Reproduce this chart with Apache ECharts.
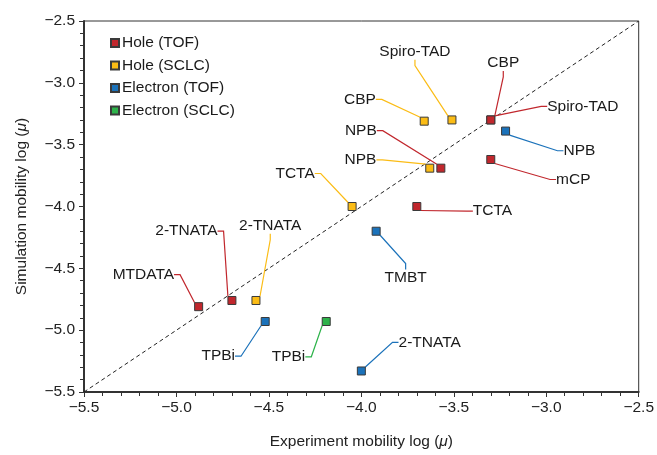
<!DOCTYPE html>
<html><head><meta charset="utf-8">
<script src="https://cdn.jsdelivr.net/npm/echarts@6/dist/echarts.min.js"></script>
<style>html,body{margin:0;padding:0;background:#fff}#c{width:657px;height:455px}</style>
</head><body><div id="c"></div>
<script>
// ---- data ----
const seriesNames = ['Hole (TOF)', 'Hole (SCLC)', 'Electron (TOF)', 'Electron (SCLC)'];

const holeTofNames = ['CBP', 'Spiro-TAD', 'NPB', 'mCP', 'TCTA', '2-TNATA', 'MTDATA'];
const holeTofX = [-3.30, -3.30, -3.57, -3.30, -3.70, -4.70, -4.88];
const holeTofY = [-3.30, -3.30, -3.69, -3.62, -4.00, -4.76, -4.81];

const holeSclcNames = ['CBP', 'Spiro-TAD', 'NPB', 'TCTA', '2-TNATA'];
const holeSclcX = [-3.66, -3.51, -3.63, -4.05, -4.57];
const holeSclcY = [-3.31, -3.30, -3.69, -4.00, -4.76];

const elecTofNames = ['NPB', 'TMBT', 'TPBi', '2-TNATA'];
const elecTofX = [-3.22, -3.92, -4.52, -4.00];
const elecTofY = [-3.39, -4.20, -4.93, -5.33];

const elecSclcNames = ['TPBi'];
const elecSclcX = [-4.19];
const elecSclcY = [-4.93];

const xTicks = [-5.5, -5.0, -4.5, -4.0, -3.5, -3.0, -2.5];
const yTicks = [-5.5, -5.0, -4.5, -4.0, -3.5, -3.0, -2.5];

// ---- layout (label offsets in px from marker centre) ----
const holeTofOff = [[12.5, -57], [92, -13.5], [-80, -37.5], [82.5, 20], [75.7, 4.7], [-45.5, -69.3], [-55.3, -32]];
const holeSclcOff = [[-64.3, -21.7], [-37, -68.3], [-69.3, -8.3], [-57, -33], [14.3, -74.7]];
const elecTofOff = [[73.8, 19.7], [29.5, 46.3], [-47, 34.7], [68.3, -28.7]];
const elecSclcOff = [[-37.7, 35.3]];

const colors = ['#c1272d', '#fbbc15', '#1b72ba', '#2db34a'];
const FONT = 'Liberation Sans, Arial, Helvetica, sans-serif';
const FS = 15.5;

function build(names, xs, ys) {
  return names.map((n, i) => ({ name: n, value: [xs[i], ys[i]] }));
}
function scat(idx, names, xs, ys, off) {
  return {
    type: 'scatter',
    name: seriesNames[idx],
    data: build(names, xs, ys),
    symbol: 'rect',
    symbolSize: 8,
    z: 5,
    itemStyle: { color: colors[idx], borderColor: '#3a3a3a', borderWidth: 1, opacity: 1 },
    label: {
      show: true,
      formatter: p => p.name,
      color: '#1a1a1a',
      fontFamily: FONT,
      fontSize: FS
    },
    labelLine: { show: true, length2: 6, smooth: false, lineStyle: { width: 1.2, color: colors[idx] } },
    labelLayout: function (p) {
      const o = off[p.dataIndex];
      return {
        x: p.rect.x + p.rect.width / 2 + o[0],
        y: p.rect.y + p.rect.height / 2 + o[1],
        align: 'center',
        verticalAlign: 'middle'
      };
    },
    emphasis: { disabled: true }
  };
}

const chart = echarts.init(document.getElementById('c'), null, { renderer: 'canvas' });
const axisCommon = {
  type: 'value',
  min: -5.5, max: -2.5, interval: 0.5,
  axisLine: { show: true, onZero: false, lineStyle: { color: '#333', width: 2 } },
  axisTick: { show: true, length: 5, lineStyle: { color: '#333', width: 1 } },
  minorTick: { show: true, splitNumber: 5, length: 4, lineStyle: { color: '#333', width: 1 } },
  splitLine: { show: false },
  axisLabel: {
    color: '#222', fontFamily: FONT, fontSize: FS,
    formatter: v => (v < 0 ? '\u2212' : '') + Math.abs(v).toFixed(1)
  },
  nameLocation: 'middle',
  nameTextStyle: {
    color: '#222', fontFamily: FONT, fontSize: FS,
    rich: { i: { fontStyle: 'italic', fontFamily: FONT, fontSize: FS, color: '#222' } }
  }
};

chart.setOption({
  animation: false,
  backgroundColor: '#fff',
  grid: { left: 84, right: 15, top: 21, bottom: 62, show: true, borderColor: '#333', borderWidth: 1, backgroundColor: 'transparent' },
  legend: {
    data: seriesNames,
    orient: 'vertical',
    left: 105, top: 30,
    itemWidth: 8, itemHeight: 8,
    itemGap: 6.5,
    icon: 'rect',
    textStyle: { color: '#1a1a1a', fontFamily: FONT, fontSize: FS, padding: [0, 0, 0, -2] },
    selectedMode: false
  },
  xAxis: Object.assign({}, axisCommon, { name: 'Experiment mobility log ({i|\u03bc})', nameGap: 42 }),
  yAxis: Object.assign({}, axisCommon, { name: 'Simulation mobility log ({i|\u03bc})', nameGap: 54, axisLabel: Object.assign({}, axisCommon.axisLabel, { margin: 9 }) }),
  series: [
    scat(0, holeTofNames, holeTofX, holeTofY, holeTofOff),
    scat(1, holeSclcNames, holeSclcX, holeSclcY, holeSclcOff),
    scat(2, elecTofNames, elecTofX, elecTofY, elecTofOff),
    scat(3, elecSclcNames, elecSclcX, elecSclcY, elecSclcOff),
    {
      type: 'line',
      name: 'diag',
      data: [[xTicks[0], yTicks[0]], [xTicks[xTicks.length - 1], yTicks[yTicks.length - 1]]],
      symbol: 'none',
      z: 1,
      silent: true,
      lineStyle: { color: '#222', width: 1, type: [4, 3] }
    }
  ]
});
</script></body></html>
